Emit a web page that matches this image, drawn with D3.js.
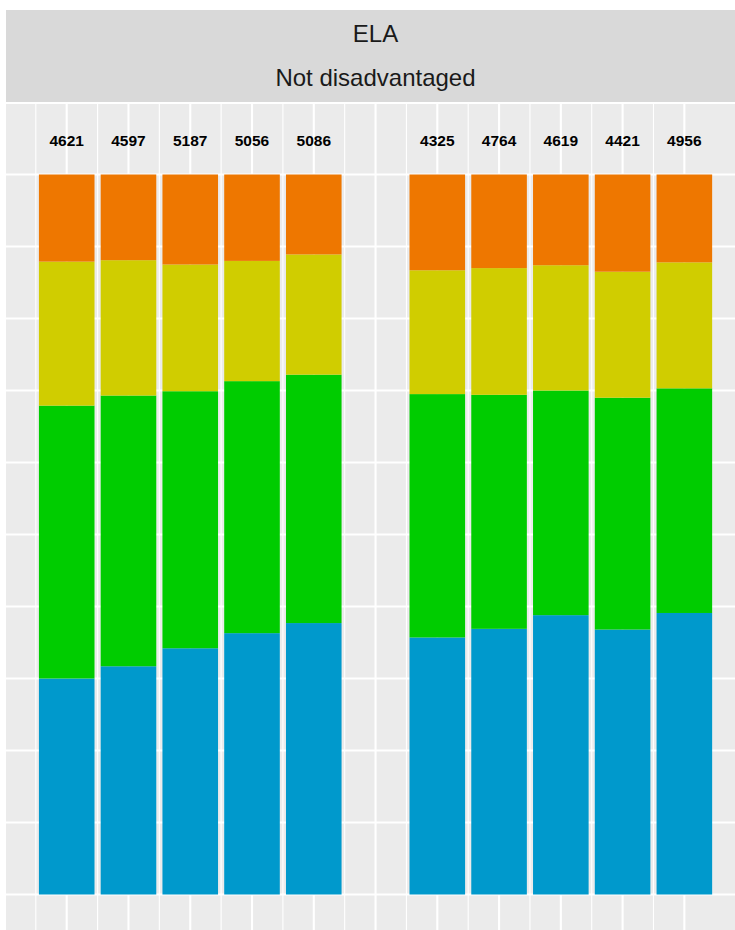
<!DOCTYPE html>
<html>
<head>
<meta charset="utf-8">
<script src="https://cdn.jsdelivr.net/npm/d3@7"></script>
<style>
  html, body { margin: 0; padding: 0; background: #ffffff; }
  svg { display: block; }
</style>
</head>
<body>
<div id="chart"></div>
<script>
// ---- data ----
const facetTitle = "ELA";
const facetSubtitle = "Not disadvantaged";
const slots = [1, 2, 3, 4, 5, 7, 8, 9, 10, 11];          // x positions (slot 6 is empty)
const counts = [4621, 4597, 5187, 5056, 5086, 4325, 4764, 4619, 4421, 4956];
// percentage shares, bottom to top
const level4 = [30.0, 31.7, 34.2, 36.3, 37.7, 35.7, 36.9, 38.8, 36.8, 39.1]; // blue
const level3 = [37.9, 37.6, 35.7, 35.0, 34.5, 33.8, 32.5, 31.2, 32.2, 31.2]; // green
const level2 = [20.0, 18.8, 17.6, 16.7, 16.7, 17.2, 17.6, 17.4, 17.5, 17.5]; // yellow
const level1 = [12.1, 11.9, 12.5, 12.0, 11.1, 13.3, 13.0, 12.6, 13.5, 12.2]; // orange
const levelKeys = ["level4", "level3", "level2", "level1"];
const levelColors = ["#0099CC", "#00CC00", "#D0CD00", "#EE7700"];
const yGridBreaks = [0, 0.1, 0.2, 0.3, 0.4, 0.5, 0.6, 0.7, 0.8, 0.9, 1.0, 1.1];
const xMajorBreaks = [1, 2, 3, 4, 5, 6, 7, 8, 9, 10, 11];
const xMinorBreaks = [0.5, 1.5, 2.5, 3.5, 4.5, 5.5, 6.5, 7.5, 8.5, 9.5, 10.5];

// ---- layout ----
const W = 735, H = 930;
const panel = { left: 6, right: 735, top: 104, bottom: 930 };
const strip = { left: 6, right: 735, top: 10, bottom: 102 };
const stripTextX = 375.5;

const rows = slots.map((s, i) => ({
  slot: s, n: counts[i],
  level4: level4[i], level3: level3[i], level2: level2[i], level1: level1[i]
}));

const x = d3.scaleLinear().domain([0.017, 11.82]).range([panel.left, panel.right]);
const y = d3.scaleLinear().domain([0, 1]).range([894.5, 174.5]);
const color = d3.scaleOrdinal().domain(levelKeys).range(levelColors);
const barW = x(0.9) - x(0);

const stack = d3.stack().keys(levelKeys).offset(d3.stackOffsetExpand);
const series = stack(rows);

const svg = d3.select("#chart").append("svg")
  .attr("width", W).attr("height", H);

// strip
svg.append("rect")
  .attr("x", strip.left).attr("y", strip.top)
  .attr("width", strip.right - strip.left).attr("height", strip.bottom - strip.top)
  .attr("fill", "#D9D9D9");
svg.append("text")
  .attr("x", stripTextX).attr("y", 41.5)
  .attr("text-anchor", "middle")
  .attr("font-family", "'Liberation Sans', Arial, sans-serif")
  .attr("font-size", 24).attr("fill", "#1A1A1A")
  .text(facetTitle);
svg.append("text")
  .attr("x", stripTextX).attr("y", 85.5)
  .attr("text-anchor", "middle")
  .attr("font-family", "'Liberation Sans', Arial, sans-serif")
  .attr("font-size", 24).attr("fill", "#1A1A1A")
  .text(facetSubtitle);

// panel
svg.append("defs").append("clipPath").attr("id", "pclip")
  .append("rect")
  .attr("x", panel.left).attr("y", panel.top)
  .attr("width", panel.right - panel.left).attr("height", panel.bottom - panel.top);

const g = svg.append("g").attr("clip-path", "url(#pclip)");
g.append("rect")
  .attr("x", panel.left).attr("y", panel.top)
  .attr("width", panel.right - panel.left).attr("height", panel.bottom - panel.top)
  .attr("fill", "#EBEBEB");

// grid
g.selectAll("line.xminor").data(xMinorBreaks).join("line")
  .attr("class", "xminor")
  .attr("x1", d => x(d)).attr("x2", d => x(d))
  .attr("y1", panel.top).attr("y2", panel.bottom)
  .attr("stroke", "#ffffff").attr("stroke-width", 1.1);
g.selectAll("line.xmajor").data(xMajorBreaks).join("line")
  .attr("class", "xmajor")
  .attr("x1", d => x(d)).attr("x2", d => x(d))
  .attr("y1", panel.top).attr("y2", panel.bottom)
  .attr("stroke", "#ffffff").attr("stroke-width", 2.1);
g.selectAll("line.ygrid").data(yGridBreaks).join("line")
  .attr("class", "ygrid")
  .attr("x1", panel.left).attr("x2", panel.right)
  .attr("y1", d => y(d)).attr("y2", d => y(d))
  .attr("stroke", "#ffffff").attr("stroke-width", 2.1);

// bars
g.selectAll("g.layer").data(series).join("g")
  .attr("class", "layer")
  .attr("fill", d => color(d.key))
  .selectAll("rect").data(d => d).join("rect")
  .attr("x", d => x(d.data.slot) - barW / 2)
  .attr("width", barW)
  .attr("y", d => y(d[1]))
  .attr("height", d => y(d[0]) - y(d[1]));

// count labels
g.selectAll("text.count").data(rows).join("text")
  .attr("class", "count")
  .attr("x", d => x(d.slot)).attr("y", 146)
  .attr("text-anchor", "middle")
  .attr("font-family", "'Liberation Sans', Arial, sans-serif")
  .attr("font-weight", "bold")
  .attr("font-size", 15.5).attr("fill", "#000000")
  .text(d => d.n);
</script>
</body>
</html>
